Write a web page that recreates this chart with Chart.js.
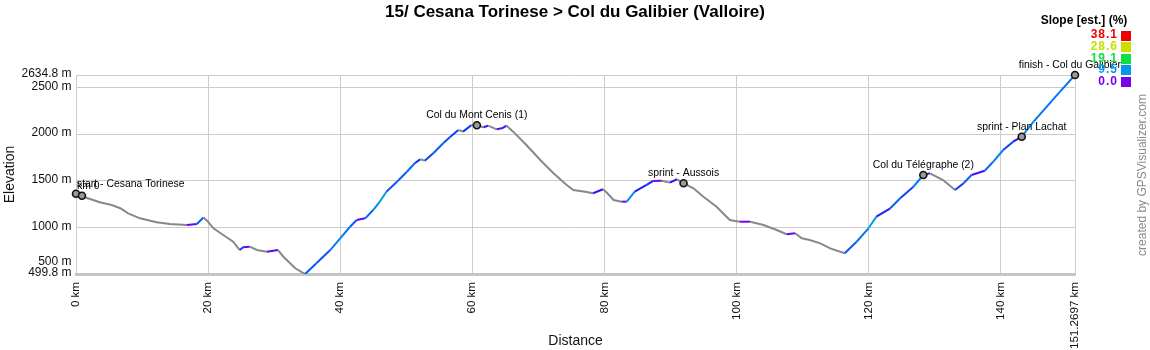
<!DOCTYPE html>
<html>
<head>
<meta charset="utf-8">
<script src="https://cdn.jsdelivr.net/npm/chart.js@4/dist/chart.umd.min.js"></script>
<style>
  html, body { margin: 0; padding: 0; background: #ffffff; }
  #wrap { width: 1150px; height: 350px; }
</style>
</head>
<body>
<div id="wrap"><canvas id="c" width="1150" height="350"></canvas></div>
<script>
// ---------- DATA ----------
const chartTitle = "15/ Cesana Torinese > Col du Galibier (Valloire)";
const distanceKm = [
  0, 1.1, 3.6, 5.4, 6.7, 7.9, 9.7, 12.2, 14.2, 16.8,
  18.3, 19.3, 20.0, 20.8, 22.3, 23.8, 24.8, 25.3, 26.3, 27.4,
  28.9, 30.6, 31.4, 33.2, 34.7, 36.4, 38.5, 40.0, 41.5, 42.5,
  43.8, 45.0, 46.0, 47.0, 48.6, 50.1, 51.3, 52.1, 52.8, 54.1,
  55.6, 56.6, 57.9, 58.6, 59.9, 60.7, 61.7, 62.4, 63.7, 64.5,
  65.2, 66.2, 68.2, 70.3, 72.3, 74.3, 75.3, 77.1, 78.3, 79.8,
  80.4, 81.4, 82.6, 83.4, 84.6, 86.4, 87.4, 88.7, 89.9, 91.0,
  92.0, 93.5, 95.0, 97.0, 99.0, 100.5, 102.1, 104.1, 106.1, 107.6,
  108.9, 109.9, 111.1, 112.7, 114.2, 116.4, 118.2, 120.0, 121.2, 123.3,
  124.8, 126.8, 128.3, 129.3, 131.3, 133.1, 134.4, 135.6, 137.6, 138.9,
  140.4, 141.9, 143.2, 145.0, 147.0, 149.0, 151.2697
];
const elevationM = [
  1360, 1329, 1269, 1240, 1205, 1151, 1097, 1054, 1036, 1025,
  1036, 1105, 1061, 990, 918, 846, 757, 786, 793, 757,
  739, 757, 685, 561, 499.8, 615, 757, 883, 1007, 1079,
  1097, 1186, 1276, 1383, 1490, 1597, 1688, 1730, 1716, 1795,
  1902, 1966, 2045, 2027, 2098, 2094, 2074, 2091, 2052, 2063,
  2091, 2027, 1884, 1723, 1580, 1455, 1401, 1383, 1366, 1409,
  1372, 1294, 1276, 1276, 1383, 1455, 1498, 1501, 1480, 1516,
  1473, 1419, 1329, 1222, 1079, 1061, 1061, 1026, 972, 926,
  937, 883, 865, 829, 775, 722, 846, 990, 1115, 1205,
  1312, 1436, 1562, 1580, 1508, 1401, 1473, 1562, 1608, 1705,
  1830, 1919, 1973, 2134, 2295, 2456, 2634.8
];
const markerKm    = [0, 0.9, 60.7, 92.0, 128.3, 143.2, 151.2697];
const markerElev  = [1360, 1340, 2096, 1473, 1562, 1973, 2634.8];
const markerNames = ["start - Cesana Torinese", "km 0", "Col du Mont Cenis (1)", "sprint - Aussois",
                     "Col du Télégraphe (2)", "sprint - Plan Lachat", "finish - Col du Galibier"];
const xTickValues = [0, 20, 40, 60, 80, 100, 120, 140, 151.2697];
const yTickValues = [499.8, 500, 1000, 1500, 2000, 2500, 2634.8];
const yMin = 499.8, yMax = 2634.8;
const slopeLegendTitle = "Slope [est.] (%)";
const slopeStops  = [0.0, 9.5, 19.1, 28.6, 38.1];
const slopeColors = ["#7700ee", "#0099ee", "#11dd44", "#ccdd00", "#ee0000"];
const creditText = "created by GPSVisualizer.com";

// ---------- HELPERS ----------
const FONT = '"Liberation Sans", Arial, Helvetica, sans-serif';
function hexToRgb(h) { return [1,3,5].map(i => parseInt(h.substr(i,2),16)); }
// colour ramp used for the line: the legend stops plus a pure-blue midpoint between 0 and 9.5
function rampStops() {
  const s = slopeStops.slice(), c = slopeColors.slice();
  s.splice(1, 0, (slopeStops[0] + slopeStops[1]) / 2);
  c.splice(1, 0, '#1122ff');
  return [s, c];
}
const [RS, RC] = rampStops();
function slopeColor(v) {
  if (v < 0) return '#888888';
  if (v >= RS[RS.length-1]) return RC[RC.length-1];
  for (let i = 0; i < RS.length - 1; i++) {
    if (v <= RS[i+1]) {
      const t = (v - RS[i]) / (RS[i+1] - RS[i]);
      const a = hexToRgb(RC[i]), b = hexToRgb(RC[i+1]);
      const c = a.map((q,k) => Math.round(q + (b[k]-q)*t));
      return `rgb(${c[0]},${c[1]},${c[2]})`;
    }
  }
  return RC[0];
}

const profilePoints = distanceKm.map((d,i) => ({x: d, y: elevationM[i]}));
const markerPoints = markerKm.map((d,i) => ({x: d, y: markerElev[i]}));

// ---------- PLUGINS ----------
const decor = {
  id: 'decor',
  afterDatasetsDraw(chart) {
    const {ctx, chartArea, scales} = chart;
    const xs = scales.x, ys = scales.y;
    ctx.save();
    ctx.font = '10.4px ' + FONT;
    ctx.fillStyle = '#000';
    ctx.textBaseline = 'middle';
    ctx.textAlign = 'left';
    markerNames.forEach((name, i) => {
      const px = xs.getPixelForValue(markerKm[i]);
      const py = ys.getPixelForValue(markerElev[i]);
      const w = ctx.measureText(name).width;
      let left = px - w/2;
      if (left < chartArea.left + 1) left = chartArea.left + 1;
      if (left + w > chart.width - 29) left = chart.width - 29 - w;
      ctx.fillText(name, left, py - 10);
    });
    ctx.restore();
  },
  afterDraw(chart) {
    const {ctx, chartArea, scales} = chart;
    const ys = scales.y;
    ctx.save();
    // title
    ctx.font = 'bold 17px ' + FONT;
    ctx.fillStyle = '#000';
    ctx.textAlign = 'center';
    ctx.textBaseline = 'middle';
    ctx.fillText(chartTitle, 575, 12);

    // y tick labels with collision handling
    ctx.font = '12px ' + FONT;
    ctx.fillStyle = '#111';
    ctx.textAlign = 'right';
    const lo = yTickValues[0], hi = yTickValues[yTickValues.length-1];
    const loY = ys.getPixelForValue(lo) - 1, hiY = ys.getPixelForValue(hi) - 1;
    yTickValues.forEach((v, i) => {
      let y = ys.getPixelForValue(v) - 1;
      if (i === 0) y = loY;
      else if (i === yTickValues.length - 1) y = hiY;
      else {
        if (loY - y < 11) y = loY - 11;
        if (y - hiY < 11) y = hiY + 11;
      }
      ctx.fillText(v + ' m', chartArea.left - 4.5, y);
    });

    // slope legend
    ctx.font = 'bold 12px ' + FONT;
    ctx.fillStyle = '#000';
    ctx.textAlign = 'center';
    ctx.fillText(slopeLegendTitle, 1084, 21);
    ctx.letterSpacing = '1px';
    for (let k = 0; k < slopeStops.length; k++) {
      const idx = slopeStops.length - 1 - k;
      const y = 35 + k * 11.6;
      ctx.fillStyle = slopeColors[idx];
      ctx.textAlign = 'right';
      ctx.fillText(slopeStops[idx].toFixed(1), 1118, y);
      ctx.fillRect(1121, Math.round(y - 4.5), 10, 10);
    }
    ctx.letterSpacing = '0px';

    // credit
    ctx.translate(1143, 175);
    ctx.rotate(-Math.PI/2);
    ctx.font = '12px ' + FONT;
    ctx.fillStyle = '#8a8a8a';
    ctx.textAlign = 'center';
    ctx.fillText(creditText, 0, 0);
    ctx.restore();
  }
};

// ---------- CHART ----------
new Chart(document.getElementById('c'), {
  type: 'line',
  data: {
    datasets: [
      {
        type: 'scatter',
        data: markerPoints,
        pointRadius: 3.5,
        pointHoverRadius: 3.5,
        pointBorderWidth: 1.6,
        pointBorderColor: '#111111',
        pointBackgroundColor: '#9a9a9a',
        showLine: false,
        clip: false
      },
      {
        data: profilePoints,
        borderWidth: 2,
        borderColor: '#888888',
        pointRadius: 0,
        tension: 0,
        fill: false,
        segment: {
          borderColor: c => {
            const dx = (c.p1.parsed.x - c.p0.parsed.x) * 1000;
            const dy = c.p1.parsed.y - c.p0.parsed.y;
            return slopeColor(dx > 0 ? dy / dx * 100 : 0);
          }
        }
      }
    ]
  },
  options: {
    responsive: false,
    animation: false,
    events: [],
    layout: { padding: { top: 75, right: 75, left: 0, bottom: 0 } },
    plugins: { legend: { display: false }, tooltip: { enabled: false }, title: { display: false } },
    scales: {
      x: {
        type: 'linear',
        min: 0,
        max: 151.2697,
        afterBuildTicks: s => { s.ticks = xTickValues.map(v => ({ value: v })); },
        afterFit: s => { s.height = 76; },
        grid: { color: '#cccccc', lineWidth: 1, drawTicks: false },
        border: { display: true, color: '#c4c4c4', width: 3 },
        ticks: {
          autoSkip: false,
          minRotation: 90,
          maxRotation: 90,
          padding: 8,
          color: '#111',
          font: { family: FONT, size: 11.6 },
          callback: v => v + ' km'
        },
        title: {
          display: true,
          text: 'Distance',
          color: '#111',
          font: { family: FONT, size: 14 },
          padding: { top: 0, bottom: 0 }
        }
      },
      y: {
        type: 'linear',
        min: yMin,
        max: yMax,
        afterBuildTicks: s => { s.ticks = yTickValues.map(v => ({ value: v })); },
        afterFit: s => { s.width = 76; },
        grid: { color: '#cccccc', lineWidth: 1, drawTicks: false },
        border: { display: false },
        ticks: { display: false },
        title: {
          display: true,
          text: 'Elevation',
          color: '#111',
          font: { family: FONT, size: 14 },
          padding: { top: 2, bottom: 0 }
        }
      }
    }
  },
  plugins: [decor]
});
</script>
</body>
</html>
